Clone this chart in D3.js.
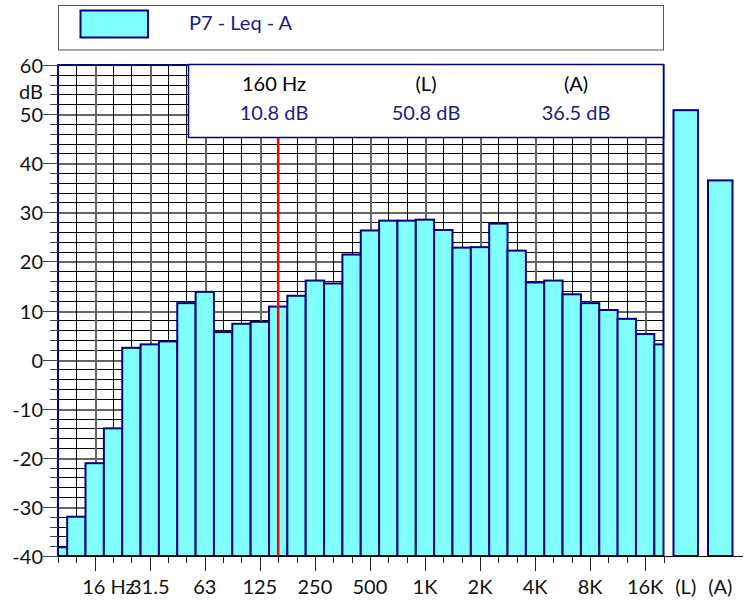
<!DOCTYPE html>
<html>
<head>
<meta charset="utf-8">
<script src="https://cdn.jsdelivr.net/npm/d3@7/dist/d3.min.js"></script>
<style>
  html, body { margin: 0; padding: 0; background: #fff; }
  svg { display: block; font-family: Lato, "Open Sans", sans-serif; }
</style>
</head>
<body>
<svg id="chart" width="749" height="601"></svg>
<script>
// One-third octave band centre frequencies (Hz)
const bands = ["10", "12.5", "16", "20", "25", "31.5", "40", "50", "63", "80", "100", "125",
  "160", "200", "250", "315", "400", "500", "630", "800", "1K", "1.25K", "1.6K", "2K",
  "2.5K", "3.15K", "4K", "5K", "6.3K", "8K", "10K", "12.5K", "16K", "20K"];
// Leq per band (dB)
const levels = [-38.2, -32.0, -21.1, -14.0, 2.4, 3.1, 3.7, 11.5, 13.8, 5.6, 7.3, 7.7,
  10.8, 13.0, 16.1, 15.5, 21.4, 26.3, 28.3, 28.3, 28.5, 26.4, 22.8, 22.9,
  27.7, 22.2, 15.7, 16.1, 13.3, 11.5, 10.1, 8.3, 5.2, 3.1];
// Overall levels
const totalLabels = ["(L)", "(A)"];
const totalValues = [50.8, 36.5];
// Labelled frequency ticks (band index -> text)
const tickIndex = [2, 5, 8, 11, 14, 17, 20, 23, 26, 29, 32];
const tickText = ["16", "31.5", "63", "125", "250", "500", "1K", "2K", "4K", "8K", "16K"];
// Level axis labels
const yTicks = [-40, -30, -20, -10, 0, 10, 20, 30, 40, 50, 60];
const seriesName = "P7 - Leq - A";
const cursorBand = 12;

const NAVY = "#000080", FILL = "#80ffff", TEXTBLUE = "#1a1a8c";
const svg = d3.select("#chart");

const pLeft = 58, pRight = 663.5, pTop = 65, pBottom = 556;
const x = d3.scaleLinear().domain([0, bands.length - 1]).range([pLeft, pRight]);
const y = d3.scaleLinear().domain([-40, 60]).range([pBottom, pTop]);
const step = x(1) - x(0);
const xt = d3.scaleBand().domain(totalLabels).range([668.5, 737.5])
  .paddingInner(0.29).paddingOuter(0.145);

// legend
const lg = svg.append("g");
lg.append("rect").attr("x", 58.5).attr("y", 5.5).attr("width", 605).attr("height", 44.5)
  .attr("fill", "#fff").attr("stroke", "#555").attr("stroke-width", 1);
lg.append("rect").attr("x", 80.5).attr("y", 10.5).attr("width", 67.5).attr("height", 27)
  .attr("fill", FILL).attr("stroke", NAVY).attr("stroke-width", 2);
lg.append("text").attr("x", 189).attr("y", 29.5).attr("font-size", 20)
  .attr("fill", TEXTBLUE).text(seriesName);

// grid
const grid = svg.append("g").attr("shape-rendering", "crispEdges");
const hLines = d3.range(-38, 60, 2);
grid.selectAll("line.h").data(hLines).join("line")
  .attr("x1", pLeft).attr("x2", pRight)
  .attr("y1", d => Math.round(y(d)) + 0.5).attr("y2", d => Math.round(y(d)) + 0.5)
  .attr("stroke", d => d % 10 === 0 ? "#666" : "#000")
  .attr("stroke-width", d => d % 10 === 0 ? 2 : 1);
grid.selectAll("line.v").data(d3.range(1, bands.length - 1)).join("line")
  .attr("x1", d => Math.round(x(d)) + 0.5).attr("x2", d => Math.round(x(d)) + 0.5)
  .attr("y1", pTop).attr("y2", pBottom)
  .attr("stroke", d => tickIndex.includes(d) ? "#666" : "#000")
  .attr("stroke-width", d => tickIndex.includes(d) ? 2 : 1);

// band bars
svg.append("clipPath").attr("id", "plotClip")
  .append("rect").attr("x", pLeft).attr("y", 0).attr("width", pRight - pLeft).attr("height", pBottom + 2);
svg.append("g").attr("clip-path", "url(#plotClip)")
  .selectAll("rect").data(levels).join("rect")
  .attr("x", (d, i) => x(i) - step / 2)
  .attr("width", step)
  .attr("y", d => y(d))
  .attr("height", d => y(-40) - y(d))
  .attr("fill", FILL).attr("stroke", NAVY).attr("stroke-width", 2);

// overall bars
svg.append("g").selectAll("rect").data(totalValues).join("rect")
  .attr("x", (d, i) => xt(totalLabels[i]))
  .attr("width", xt.bandwidth())
  .attr("y", d => y(d))
  .attr("height", d => y(-40) - y(d))
  .attr("fill", FILL).attr("stroke", NAVY).attr("stroke-width", 2);

// cursor line
svg.append("line").attr("x1", x(cursorBand)).attr("x2", x(cursorBand))
  .attr("y1", pTop).attr("y2", pBottom).attr("stroke", "#ff0000").attr("stroke-width", 2.5);

// frame
const fr = svg.append("g").attr("fill", "none");
fr.append("path").attr("d", `M${pLeft},${pBottom}V${pTop}H${pRight}V${pBottom}`)
  .attr("stroke", NAVY).attr("stroke-width", 2);
fr.append("line").attr("x1", pLeft).attr("x2", 743).attr("y1", pBottom + 0.5).attr("y2", pBottom + 0.5)
  .attr("stroke", "#000").attr("stroke-width", 1.2);

// level axis ticks and labels
const ya = svg.append("g").attr("shape-rendering", "crispEdges");
ya.selectAll("line").data(d3.range(-40, 61, 2)).join("line")
  .attr("x1", d => d % 10 === 0 ? 43 : 50).attr("x2", pLeft)
  .attr("y1", d => Math.round(y(d)) + 0.5).attr("y2", d => Math.round(y(d)) + 0.5)
  .attr("stroke", "#444").attr("stroke-width", 1.2);
svg.append("g").selectAll("text").data(yTicks).join("text")
  .attr("x", 43).attr("y", d => y(d) + 8).attr("text-anchor", "end")
  .attr("font-size", 20).attr("fill", "#111").text(d => d);
svg.append("text").attr("x", 43).attr("y", 98.5).attr("text-anchor", "end")
  .attr("font-size", 20).attr("fill", "#111").text("dB");

// frequency axis ticks and labels
const xa = svg.append("g").attr("shape-rendering", "crispEdges");
xa.selectAll("line").data(d3.range(0, bands.length)).join("line")
  .attr("x1", d => Math.round(x(d)) + 0.5).attr("x2", d => Math.round(x(d)) + 0.5)
  .attr("y1", pBottom).attr("y2", d => tickIndex.includes(d) ? 571 : 563)
  .attr("stroke", "#222").attr("stroke-width", 1.2);
svg.append("g").selectAll("text").data(tickIndex).join("text")
  .attr("x", (d, i) => i === 0 ? x(d) - 12.5 : x(d))
  .attr("y", 593.5)
  .attr("text-anchor", (d, i) => i === 0 ? "start" : "middle")
  .attr("font-size", 20).attr("fill", "#111")
  .text((d, i) => i === 0 ? tickText[i] + " Hz" : tickText[i]);
svg.append("g").selectAll("text").data(totalLabels).join("text")
  .attr("x", d => xt(d) + xt.bandwidth() / 2).attr("y", 593.5)
  .attr("text-anchor", "middle").attr("font-size", 20).attr("fill", "#111").text(d => d);

// readout box
const rb = svg.append("g");
rb.append("rect").attr("x", 188.5).attr("y", 64.5).attr("width", 475).attr("height", 73)
  .attr("fill", "#fff").attr("stroke", NAVY).attr("stroke-width", 1.5);
const cols = [274, 426, 576];
const head = [bands[cursorBand] + " Hz", totalLabels[0], totalLabels[1]];
const vals = [levels[cursorBand], totalValues[0], totalValues[1]].map(v => v.toFixed(1) + " dB");
rb.selectAll("text.h").data(head).join("text").attr("class", "h")
  .attr("x", (d, i) => cols[i]).attr("y", 90.5).attr("text-anchor", "middle")
  .attr("font-size", 20).attr("fill", "#000").text(d => d);
rb.selectAll("text.v").data(vals).join("text").attr("class", "v")
  .attr("x", (d, i) => cols[i]).attr("y", 119.5).attr("text-anchor", "middle")
  .attr("font-size", 20).attr("fill", TEXTBLUE).text(d => d);
</script>
</body>
</html>
